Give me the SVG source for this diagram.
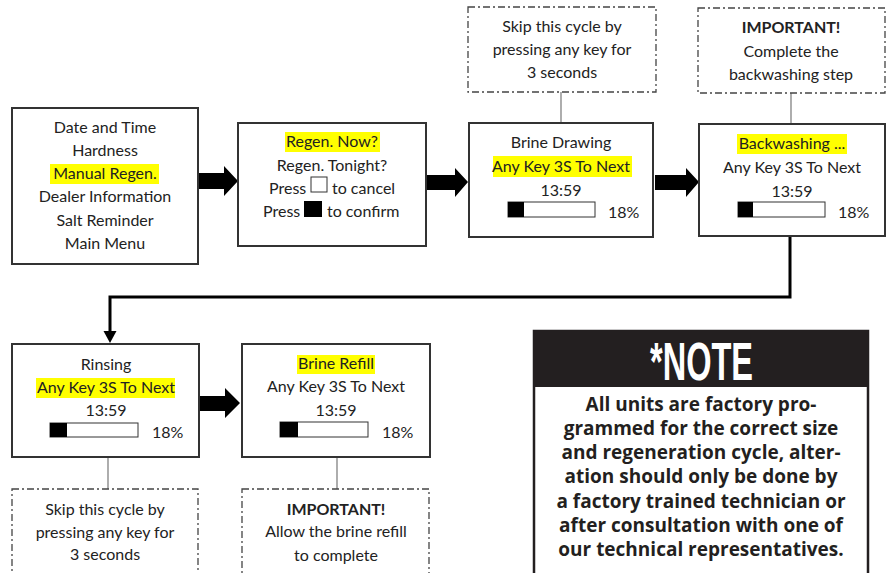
<svg xmlns="http://www.w3.org/2000/svg" width="891" height="573" viewBox="0 0 891 573">
<defs>
<style>
.box{fill:#fff;stroke:#333;stroke-width:2}
.dash{fill:#fff;stroke:#444;stroke-width:1.3;stroke-dasharray:7 3 2 3}
.t{font-family:Lato,"Open Sans","Liberation Sans",sans-serif;font-size:16px;fill:#222;text-anchor:middle}
.ts{font-family:Lato,"Open Sans","Liberation Sans",sans-serif;font-size:16px;fill:#222}
.b{font-weight:bold}
.hl{fill:#ffff00}
.bar{fill:#fff;stroke:#333;stroke-width:1}
.fill{fill:#000}
.thin{stroke:#777;stroke-width:1.2;fill:none}
.big{fill:#000}
.note{font-family:"Open Sans",Lato,"Liberation Sans",sans-serif;font-size:19px;font-weight:bold;fill:#231f20;text-anchor:middle}
</style>
</defs>

<g id="connectors">
<line class="thin" x1="561" y1="92" x2="561" y2="123"/>
<line class="thin" x1="791" y1="93" x2="791" y2="124"/>
<line class="thin" x1="108" y1="457" x2="108" y2="489"/>
<line class="thin" x1="337" y1="457" x2="337" y2="489"/>
<polygon class="big" points="198,173 224,173 224,166 238,181 224,196 224,189 198,189"/>
<polygon class="big" points="427,175 455,175 455,168 468,182 455,197 455,190 427,190"/>
<polygon class="big" points="655,175 686,175 686,168 699,182 686,197 686,190 655,190"/>
<polygon class="big" points="199,396 225,396 225,388 240,403 225,418 225,411 199,411"/>
<path d="M790,236 V297 H110 V333" fill="none" stroke="#000" stroke-width="3"/>
<polygon class="big" points="103.5,331 116.5,331 110,343"/>
</g>

<g id="menu">
<rect class="box" x="12" y="108" width="186" height="156"/>
<rect class="hl" x="50" y="164" width="109" height="20"/>
<text class="t" x="105" y="133">Date and Time</text>
<text class="t" x="105" y="156">Hardness</text>
<text class="t" x="105" y="179">Manual Regen.</text>
<text class="t" x="105" y="202">Dealer Information</text>
<text class="t" x="105" y="226">Salt Reminder</text>
<text class="t" x="105" y="249">Main Menu</text>
</g>

<g id="regen-now">
<rect class="box" x="238" y="123" width="188" height="123"/>
<rect class="hl" x="285" y="132" width="95" height="20"/>
<text class="t" x="332" y="147">Regen. Now?</text>
<text class="t" x="332" y="171">Regen. Tonight?</text>
<text class="ts" x="269" y="194">Press</text>
<rect x="311" y="177" width="16" height="15" fill="#fff" stroke="#333" stroke-width="1"/>
<text class="ts" x="332" y="194">to cancel</text>
<text class="ts" x="263" y="217">Press</text>
<rect x="304" y="201" width="18" height="16" fill="#000"/>
<text class="ts" x="327" y="217">to confirm</text>
</g>

<g id="brine-drawing">
<rect class="box" x="469" y="123" width="184" height="114"/>
<rect class="hl" x="493" y="156" width="139" height="21"/>
<text class="t" x="561" y="148">Brine Drawing</text>
<text class="t" x="561" y="172">Any Key 3S To Next</text>
<text class="t" x="561" y="196">13:59</text>
<rect class="bar" x="508" y="202" width="87" height="15"/>
<rect class="fill" x="508" y="202" width="16" height="15"/>
<text class="ts" x="608" y="218">18%</text>
</g>

<g id="skip-1">
<rect class="dash" x="468" y="7" width="188" height="85"/>
<text class="t" x="562" y="32">Skip this cycle by</text>
<text class="t" x="562" y="55">pressing any key for</text>
<text class="t" x="562" y="78">3 seconds</text>
</g>

<g id="backwashing">
<rect class="box" x="699" y="124" width="186" height="112"/>
<rect class="hl" x="737" y="134" width="110" height="20"/>
<text class="t" x="792" y="149">Backwashing ...</text>
<text class="t" x="792" y="173">Any Key 3S To Next</text>
<text class="t" x="792" y="197">13:59</text>
<rect class="bar" x="738" y="202" width="87" height="15"/>
<rect class="fill" x="738" y="202" width="15" height="15"/>
<text class="ts" x="838" y="218">18%</text>
</g>

<g id="important-1">
<rect class="dash" x="698" y="8" width="187" height="85"/>
<text class="t b" x="791" y="33">IMPORTANT!</text>
<text class="t" x="791" y="57">Complete the</text>
<text class="t" x="791" y="80">backwashing step</text>
</g>

<g id="rinsing">
<rect class="box" x="12" y="344" width="187" height="113"/>
<rect class="hl" x="36" y="378" width="139" height="20"/>
<text class="t" x="106" y="370">Rinsing</text>
<text class="t" x="106" y="393">Any Key 3S To Next</text>
<text class="t" x="106" y="416">13:59</text>
<rect class="bar" x="50" y="423" width="88" height="14"/>
<rect class="fill" x="50" y="423" width="17" height="14"/>
<text class="ts" x="152" y="438">18%</text>
</g>

<g id="skip-2">
<rect class="dash" x="12" y="489" width="186" height="100"/>
<text class="t" x="105" y="515">Skip this cycle by</text>
<text class="t" x="105" y="538">pressing any key for</text>
<text class="t" x="105" y="560">3 seconds</text>
</g>

<g id="brine-refill">
<rect class="box" x="242" y="344" width="188" height="113"/>
<rect class="hl" x="297" y="355" width="78" height="19"/>
<text class="t" x="336" y="369">Brine Refill</text>
<text class="t" x="336" y="392">Any Key 3S To Next</text>
<text class="t" x="336" y="416">13:59</text>
<rect class="bar" x="280" y="422" width="88" height="15"/>
<rect class="fill" x="280" y="422" width="18" height="15"/>
<text class="ts" x="382" y="438">18%</text>
</g>

<g id="important-2">
<rect class="dash" x="242" y="489" width="187" height="100"/>
<text class="t b" x="336" y="515">IMPORTANT!</text>
<text class="t" x="336" y="537">Allow the brine refill</text>
<text class="t" x="336" y="561">to complete</text>
</g>

<g id="note">
<rect x="534" y="331" width="334" height="250" fill="#fff" stroke="#231f20" stroke-width="2.5"/>
<rect x="534" y="331" width="334" height="56" fill="#231f20"/>
<text x="650" y="380" font-family="'Liberation Sans',Arial,sans-serif" font-weight="bold" font-size="54" fill="#fff" textLength="103" lengthAdjust="spacingAndGlyphs">*NOTE</text>
<text class="note" x="701" y="411">All units are factory pro-</text>
<text class="note" x="701" y="435">grammed for the correct size</text>
<text class="note" x="701" y="459">and regeneration cycle, alter-</text>
<text class="note" x="701" y="483">ation should only be done by</text>
<text class="note" x="701" y="508">a factory trained technician or</text>
<text class="note" x="701" y="532">after consultation with one of</text>
<text class="note" x="701" y="556">our technical representatives.</text>
</g>
</svg>
